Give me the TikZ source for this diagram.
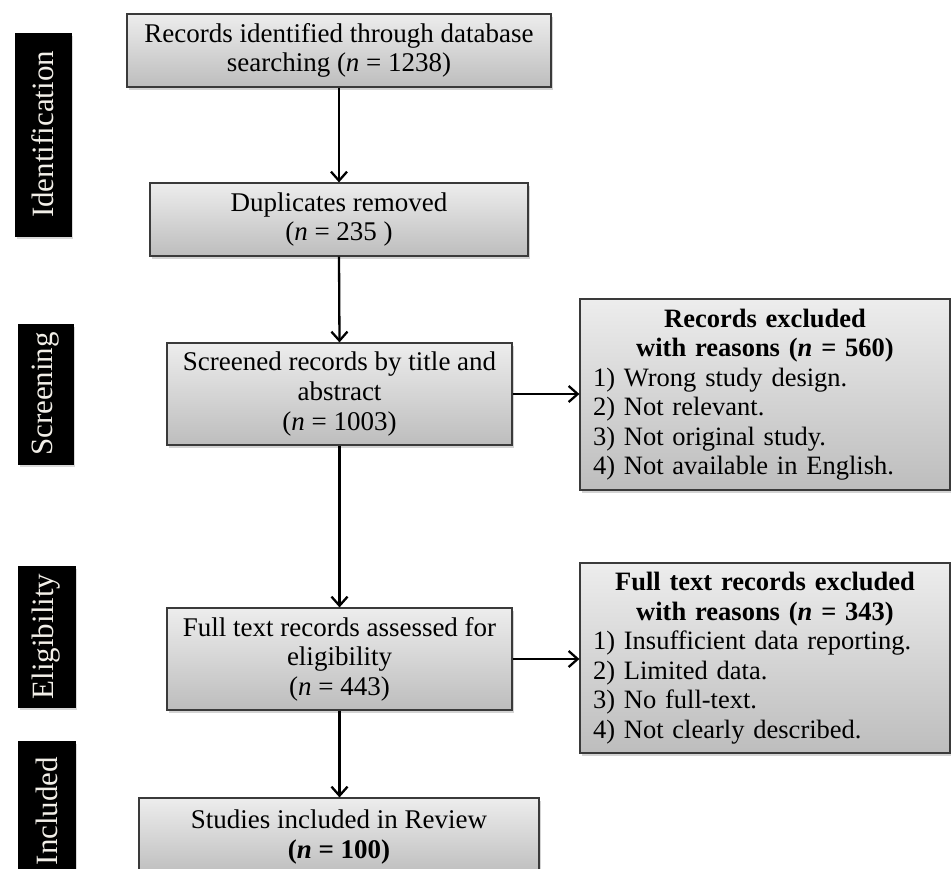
\documentclass[tikz,border=0pt]{standalone}
\usepackage{fontspec}
\setmainfont{Liberation Serif}
\usetikzlibrary{arrows.meta,shadows}
\definecolor{boxtop}{HTML}{EDEDED}
\definecolor{boxbot}{HTML}{BDBDBD}
\definecolor{boxline}{HTML}{3A3A3A}
\definecolor{labtext}{HTML}{F2EFE8}
\tikzset{
  flowbox/.style={draw=boxline, line width=1.2pt, top color=boxtop, bottom color=boxbot,
    drop shadow={shadow xshift=2pt, shadow yshift=-3pt, opacity=0.35},
    align=center, inner sep=0pt,
    font=\fontsize{27}{29.5}\selectfont},
  sidebox/.style={draw=boxline, line width=1.2pt, top color=boxtop, bottom color=boxbot,
    drop shadow={shadow xshift=2pt, shadow yshift=-3pt, opacity=0.35},
    inner xsep=13pt, inner ysep=0pt, text width=344pt,
    font=\fontsize{26.5}{29.5}\selectfont},
  phaselabel/.style={fill=black, draw=black, rotate=90, inner sep=0pt,
    text=labtext, drop shadow={shadow xshift=2pt, shadow yshift=-3pt, opacity=0.3},
    font=\fontsize{31}{33}\selectfont},
  flowarrow/.style={line width=2.3pt, -{Straight Barb[length=9pt, width=16pt, line width=2.3pt]}}
}
\begin{document}
\begin{tikzpicture}[x=1pt, y=-1pt]
\useasboundingbox (0,0) rectangle (951,868);

% phase labels
\node[phaselabel, minimum width=203pt, minimum height=56pt] (lid) at (43,134.5) {Identification};
\node[phaselabel, minimum width=140pt, minimum height=55pt] (lsc) at (45.5,394) {Screening};
\node[phaselabel, minimum width=141pt, minimum height=57pt] (lel) at (46.5,636.5) {Eligibility};
\node[phaselabel, minimum width=140pt, minimum height=57pt] (lin) at (46.5,811) {Included};

% main boxes
\node[flowbox, minimum width=424pt, minimum height=73pt] (b1) at (339,50.5)
  {Records identified through database\\ searching (\textit{n} = 1238)};
\node[flowbox, minimum width=378pt, minimum height=73pt] (b2) at (339,219.5)
  {Duplicates removed\\ (\textit{n} = 235 )};
\node[flowbox, minimum width=345pt, minimum height=102pt] (b3) at (339.5,394)
  {Screened records by title and\\ abstract\\ (\textit{n} = 1003)};
\node[flowbox, minimum width=345pt, minimum height=102pt] (b6) at (339.5,659)
  {Full text records assessed for\\ eligibility\\ (\textit{n} = 443)};
\node[flowbox, minimum width=400pt, minimum height=78pt] (b7) at (339,837)
  {Studies included in Review\\ \textbf{(\textit{n} = 100)}};

% exclusion boxes
\node[sidebox, minimum height=191pt] (b4) at (765,394.5)
  {\centering\textbf{Records excluded\\ with reasons (\textit{n} = 560)}\par
   \raggedright 1) Wrong study design.\\ 2) Not relevant.\\ 3) Not original study.\\ 4) Not available in English.\par};
\node[sidebox, minimum height=190pt] (b5) at (765,658)
  {\centering\textbf{Full text records excluded\\ with reasons (\textit{n} = 343)}\par
   \raggedright 1) Insufficient data reporting.\\ 2) Limited data.\\ 3) No full-text.\\ 4) Not clearly described.\par};

% connectors
\draw[flowarrow] (b1.south) -- (b2.north);
\draw[flowarrow] (b2.south) -- (b3.north);
\draw[flowarrow] (b3.south) -- (b6.north);
\draw[flowarrow] (b6.south) -- (b7.north -| b6.south);
\draw[flowarrow] (b3.east) -- (b3.east -| b4.west);
\draw[flowarrow] (b6.east) -- (b6.east -| b5.west);
\end{tikzpicture}
\end{document}
